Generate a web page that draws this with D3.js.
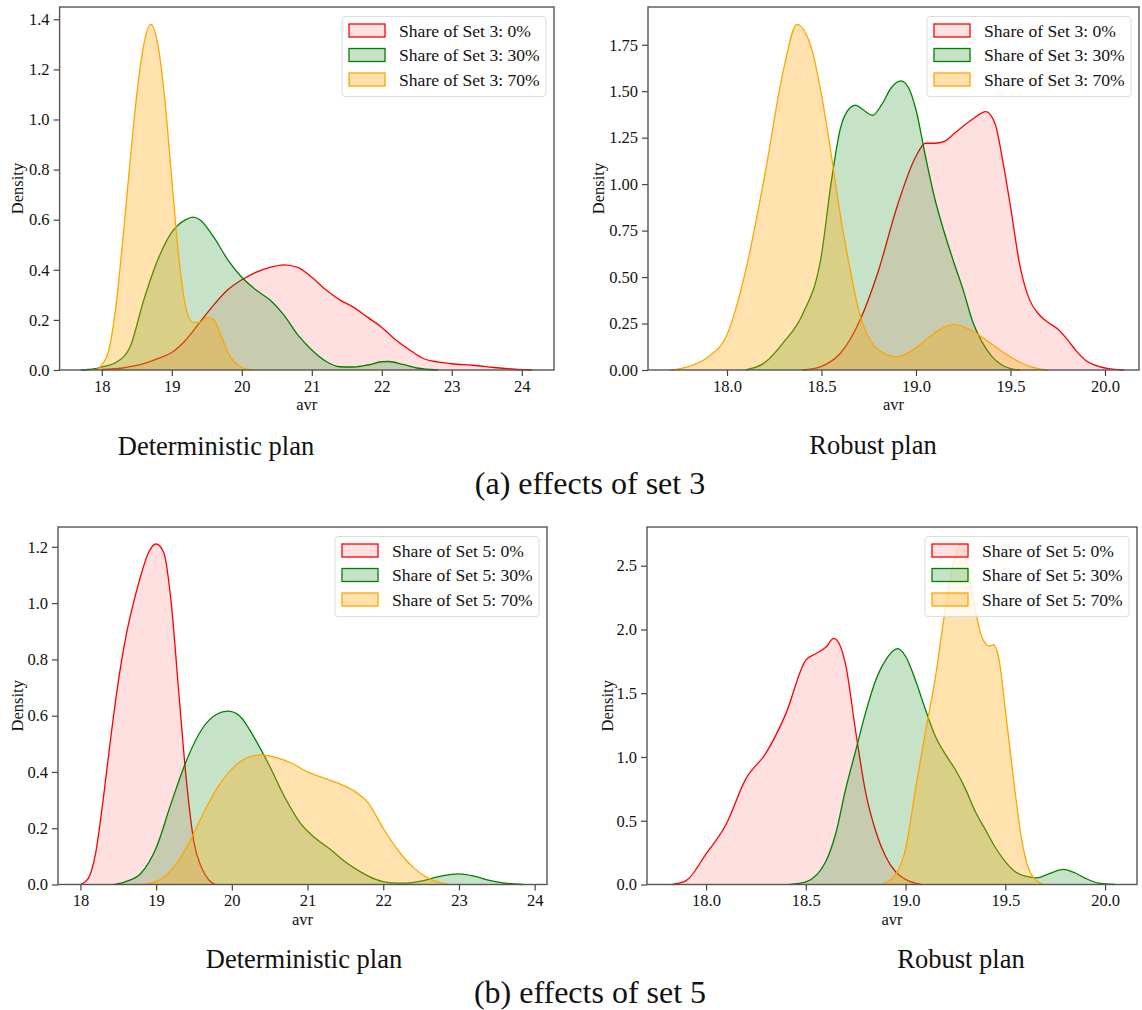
<!DOCTYPE html>
<meta charset="utf-8">
<style>
body { margin: 0; background: #fff; }
text { font-family: "Liberation Serif", "Times New Roman", serif; fill: #111; }
</style>
<body>
<script src="https://d3js.org/d3.v7.min.js"></script>
<script>

// ---- data: [avr, density] ----
// (a) set 3, deterministic plan
var det3_0 = [[18.0,0.002],[18.3,0.008],[18.6,0.025],[18.8,0.045],[19.0,0.07],[19.2,0.12],[19.4,0.19],[19.6,0.26],[19.8,0.32],[20.0,0.36],[20.2,0.39],[20.4,0.41],[20.6,0.42],[20.8,0.41],[21.0,0.37],[21.2,0.32],[21.4,0.28],[21.6,0.25],[21.8,0.21],[22.0,0.17],[22.2,0.12],[22.4,0.08],[22.6,0.045],[22.8,0.032],[23.0,0.025],[23.3,0.019],[23.6,0.01],[23.9,0.003],[24.15,0]];
var det3_30 = [[17.7,0],[17.9,0.005],[18.0,0.012],[18.2,0.03],[18.4,0.09],[18.6,0.28],[18.8,0.44],[19.0,0.55],[19.2,0.6],[19.3,0.61],[19.4,0.6],[19.6,0.53],[19.8,0.44],[20.0,0.37],[20.2,0.32],[20.4,0.28],[20.6,0.22],[20.8,0.14],[21.0,0.08],[21.2,0.035],[21.4,0.013],[21.6,0.012],[21.8,0.02],[22.0,0.033],[22.1,0.034],[22.3,0.022],[22.5,0.008],[22.8,0]];
var det3_70 = [[17.85,0],[17.95,0.005],[18.0,0.02],[18.1,0.08],[18.2,0.25],[18.3,0.52],[18.4,0.82],[18.5,1.1],[18.6,1.3],[18.7,1.38],[18.8,1.3],[18.9,1.08],[19.0,0.76],[19.1,0.45],[19.2,0.25],[19.3,0.19],[19.4,0.19],[19.5,0.21],[19.6,0.2],[19.7,0.14],[19.8,0.07],[19.9,0.03],[20.0,0.01],[20.15,0]];

// (a) set 3, robust plan
var rob3_0 = [[18.4,0],[18.5,0.02],[18.6,0.09],[18.7,0.26],[18.8,0.53],[18.9,0.88],[19.0,1.15],[19.05,1.22],[19.1,1.22],[19.15,1.23],[19.2,1.27],[19.3,1.35],[19.37,1.39],[19.42,1.32],[19.46,1.12],[19.5,0.88],[19.55,0.56],[19.6,0.38],[19.65,0.3],[19.7,0.255],[19.75,0.22],[19.8,0.165],[19.85,0.1],[19.9,0.05],[19.95,0.025],[20.05,0.003],[20.1,0]];
var rob3_30 = [[18.1,0],[18.2,0.04],[18.3,0.15],[18.4,0.3],[18.5,0.62],[18.55,1.0],[18.6,1.3],[18.65,1.41],[18.68,1.425],[18.72,1.4],[18.77,1.37],[18.82,1.43],[18.87,1.52],[18.92,1.556],[18.96,1.52],[19.0,1.4],[19.05,1.15],[19.1,0.92],[19.15,0.74],[19.2,0.58],[19.25,0.43],[19.3,0.26],[19.35,0.15],[19.4,0.075],[19.45,0.03],[19.5,0.008],[19.55,0]];
var rob3_70 = [[17.7,0],[17.8,0.02],[17.9,0.07],[18.0,0.19],[18.1,0.54],[18.2,1.05],[18.3,1.62],[18.37,1.86],[18.45,1.72],[18.5,1.48],[18.55,1.17],[18.6,0.83],[18.65,0.55],[18.7,0.31],[18.8,0.11],[18.9,0.07],[19.0,0.12],[19.1,0.2],[19.2,0.245],[19.3,0.21],[19.4,0.14],[19.5,0.07],[19.6,0.02],[19.7,0]];

// (b) set 5, deterministic plan
var det5_0 = [[18.0,0],[18.1,0.02],[18.2,0.11],[18.3,0.3],[18.4,0.52],[18.5,0.72],[18.6,0.88],[18.7,1.0],[18.8,1.1],[18.9,1.18],[19.0,1.21],[19.1,1.18],[19.2,1.0],[19.3,0.68],[19.4,0.37],[19.5,0.15],[19.6,0.06],[19.7,0.015],[19.78,0]];
var det5_30 = [[18.45,0],[18.6,0.01],[18.8,0.04],[19.0,0.13],[19.2,0.29],[19.4,0.44],[19.6,0.55],[19.8,0.605],[19.95,0.616],[20.1,0.6],[20.3,0.52],[20.5,0.42],[20.7,0.31],[20.9,0.22],[21.1,0.165],[21.3,0.125],[21.5,0.08],[21.7,0.045],[21.9,0.018],[22.1,0.006],[22.3,0.005],[22.5,0.012],[22.7,0.026],[22.9,0.036],[23.0,0.038],[23.2,0.03],[23.4,0.015],[23.6,0.005],[23.85,0]];
var det5_70 = [[18.83,0],[19.0,0.01],[19.2,0.05],[19.4,0.13],[19.6,0.24],[19.8,0.34],[20.0,0.41],[20.2,0.45],[20.4,0.461],[20.6,0.45],[20.8,0.43],[21.0,0.4],[21.2,0.38],[21.4,0.36],[21.6,0.335],[21.8,0.29],[22.0,0.2],[22.2,0.12],[22.4,0.06],[22.6,0.022],[22.86,0]];

// (b) set 5, robust plan
var rob5_0 = [[17.83,0],[17.9,0.03],[18.0,0.24],[18.1,0.47],[18.2,0.83],[18.3,1.03],[18.4,1.34],[18.5,1.76],[18.55,1.81],[18.6,1.86],[18.64,1.93],[18.67,1.88],[18.7,1.72],[18.75,1.2],[18.8,0.72],[18.85,0.42],[18.9,0.22],[18.95,0.1],[19.0,0.04],[19.08,0]];
var rob5_30 = [[18.42,0],[18.5,0.02],[18.6,0.18],[18.65,0.4],[18.7,0.75],[18.75,1.05],[18.8,1.35],[18.85,1.6],[18.9,1.76],[18.96,1.85],[19.0,1.79],[19.05,1.6],[19.1,1.37],[19.15,1.16],[19.2,1.02],[19.25,0.9],[19.3,0.75],[19.35,0.57],[19.4,0.43],[19.45,0.29],[19.5,0.18],[19.55,0.1],[19.6,0.065],[19.66,0.052],[19.72,0.085],[19.79,0.118],[19.85,0.09],[19.9,0.05],[19.97,0.01],[20.05,0]];
var rob5_70 = [[18.88,0],[18.95,0.08],[19.0,0.28],[19.05,0.75],[19.1,1.2],[19.15,1.63],[19.2,2.17],[19.25,2.58],[19.28,2.67],[19.31,2.5],[19.35,2.15],[19.38,1.95],[19.42,1.87],[19.44,1.88],[19.47,1.75],[19.5,1.37],[19.54,0.84],[19.58,0.37],[19.63,0.08],[19.69,0]];

var labels3 = ["Share of Set 3: 0%", "Share of Set 3: 30%", "Share of Set 3: 70%"];
var labels5 = ["Share of Set 5: 0%", "Share of Set 5: 30%", "Share of Set 5: 70%"];

var ticksInt = [18, 19, 20, 21, 22, 23, 24];
var ticksHalf = [18.0, 18.5, 19.0, 19.5, 20.0];
var yTicksDet3 = [0, 0.2, 0.4, 0.6, 0.8, 1.0, 1.2, 1.4];
var yTicksRob3 = [0, 0.25, 0.5, 0.75, 1.0, 1.25, 1.5, 1.75];
var yTicksDet5 = [0, 0.2, 0.4, 0.6, 0.8, 1.0, 1.2];
var yTicksRob5 = [0, 0.5, 1.0, 1.5, 2.0, 2.5];

var colors = ["#ff0000", "#008000", "#ffa500"];
var fillOp = [0.12, 0.22, 0.32];

var svg = d3.select("body").append("svg")
    .attr("width", 1142)
    .attr("height", 1010);

// one panel = frame, three filled kde curves, axes, legend
function panel(p) {
  var x = d3.scaleLinear().domain(p.xDomain).range([p.left, p.right]);
  var ymax = d3.max(p.series, function(s) { return d3.max(s, function(d) { return d[1]; }); }) * 1.05;
  var y = d3.scaleLinear().domain([0, ymax]).range([p.bottom, p.top]);

  var area = d3.area()
      .x(function(d) { return x(d[0]); })
      .y0(y(0))
      .y1(function(d) { return y(d[1]); })
      .curve(d3.curveMonotoneX);
  var line = d3.line()
      .x(function(d) { return x(d[0]); })
      .y(function(d) { return y(d[1]); })
      .curve(d3.curveMonotoneX);

  p.series.forEach(function(s, i) {
    svg.append("path").attr("d", area(s))
        .attr("fill", colors[i]).attr("fill-opacity", fillOp[i]);
    svg.append("path").attr("d", line(s))
        .attr("fill", "none").attr("stroke", colors[i]).attr("stroke-width", 1.3);
  });

  // x axis
  var gx = svg.append("g")
      .attr("transform", "translate(0," + p.bottom + ")")
      .call(d3.axisBottom(x).tickValues(p.xTicks).tickFormat(p.xFmt).tickSize(6).tickPadding(4));
  // y axis
  var gy = svg.append("g")
      .attr("transform", "translate(" + p.left + ",0)")
      .call(d3.axisLeft(y).tickValues(p.yTicks).tickFormat(p.yFmt).tickSize(6).tickPadding(4));
  [gx, gy].forEach(function(g) {
    g.select(".domain").remove();
    g.selectAll("line").attr("stroke", "#444").attr("stroke-width", 1.2);
    g.selectAll("text").attr("font-family", "Liberation Serif").attr("font-size", 16.5).attr("fill", "#111");
  });

  // frame
  svg.append("rect")
      .attr("x", p.left).attr("y", p.top)
      .attr("width", p.right - p.left).attr("height", p.bottom - p.top)
      .attr("fill", "none").attr("stroke", "#555").attr("stroke-width", 1.4);

  svg.append("text")
      .attr("text-anchor", "middle")
      .attr("x", (p.left + p.right) / 2).attr("y", p.bottom + 40)
      .attr("font-size", 16.5)
      .text("avr");
  svg.append("text")
      .attr("text-anchor", "middle")
      .attr("transform", "translate(" + p.densX + "," + ((p.top + p.bottom) / 2) + ")rotate(-90)")
      .attr("font-size", 16.5)
      .text("Density");

  // legend
  var lx = p.right - 212, ly = p.top + 9.5;
  svg.append("rect")
      .attr("x", lx).attr("y", ly).attr("width", 204).attr("height", 80)
      .attr("rx", 3).attr("fill", "#fff").attr("fill-opacity", 0.8)
      .attr("stroke", "#ddd").attr("stroke-width", 1);
  p.labels.forEach(function(t, i) {
    var ry = ly + 14 + i * 24.5;
    svg.append("rect")
        .attr("x", lx + 7).attr("y", ry - 6.5).attr("width", 36).attr("height", 13)
        .attr("fill", colors[i]).attr("fill-opacity", fillOp[i])
        .attr("stroke", colors[i]).attr("stroke-width", 1.3);
    svg.append("text")
        .attr("x", lx + 57).attr("y", ry + 6)
        .attr("font-size", 17.6)
        .text(t);
  });

  svg.append("text")
      .attr("text-anchor", "middle")
      .attr("x", p.titleX).attr("y", p.titleY)
      .attr("font-size", 26.5)
      .text(p.title);
}

var f1 = d3.format("d"), f1d = d3.format(".1f"), f2d = d3.format(".2f");

panel({left: 59.6, right: 554, top: 7, bottom: 370, xDomain: [17.397, 24.46],
  xTicks: ticksInt, xFmt: f1, yTicks: yTicksDet3, yFmt: f1d,
  series: [det3_0, det3_30, det3_70], labels: labels3, densX: 23,
  title: "Deterministic plan", titleX: 216, titleY: 455});
panel({left: 648, right: 1139, top: 7, bottom: 370, xDomain: [17.582, 20.18],
  xTicks: ticksHalf, xFmt: f1d, yTicks: yTicksRob3, yFmt: f2d,
  series: [rob3_0, rob3_30, rob3_70], labels: labels3, densX: 604,
  title: "Robust plan", titleX: 873, titleY: 454});
panel({left: 58, right: 547, top: 527, bottom: 884.5, xDomain: [17.704, 24.163],
  xTicks: ticksInt, xFmt: f1, yTicks: yTicksDet5, yFmt: f1d,
  series: [det5_0, det5_30, det5_70], labels: labels5, densX: 23,
  title: "Deterministic plan", titleX: 304, titleY: 968});
panel({left: 647, right: 1137, top: 527, bottom: 884.5, xDomain: [17.704, 20.16],
  xTicks: ticksHalf, xFmt: f1d, yTicks: yTicksRob5, yFmt: f1d,
  series: [rob5_0, rob5_30, rob5_70], labels: labels5, densX: 613,
  title: "Robust plan", titleX: 961, titleY: 968});

svg.append("text")
    .attr("text-anchor", "middle")
    .attr("x", 590).attr("y", 494)
    .attr("font-size", 32)
    .text("(a) effects of set 3");
svg.append("text")
    .attr("text-anchor", "middle")
    .attr("x", 590).attr("y", 1003)
    .attr("font-size", 32)
    .text("(b) effects of set 5");

</script>
</body>
